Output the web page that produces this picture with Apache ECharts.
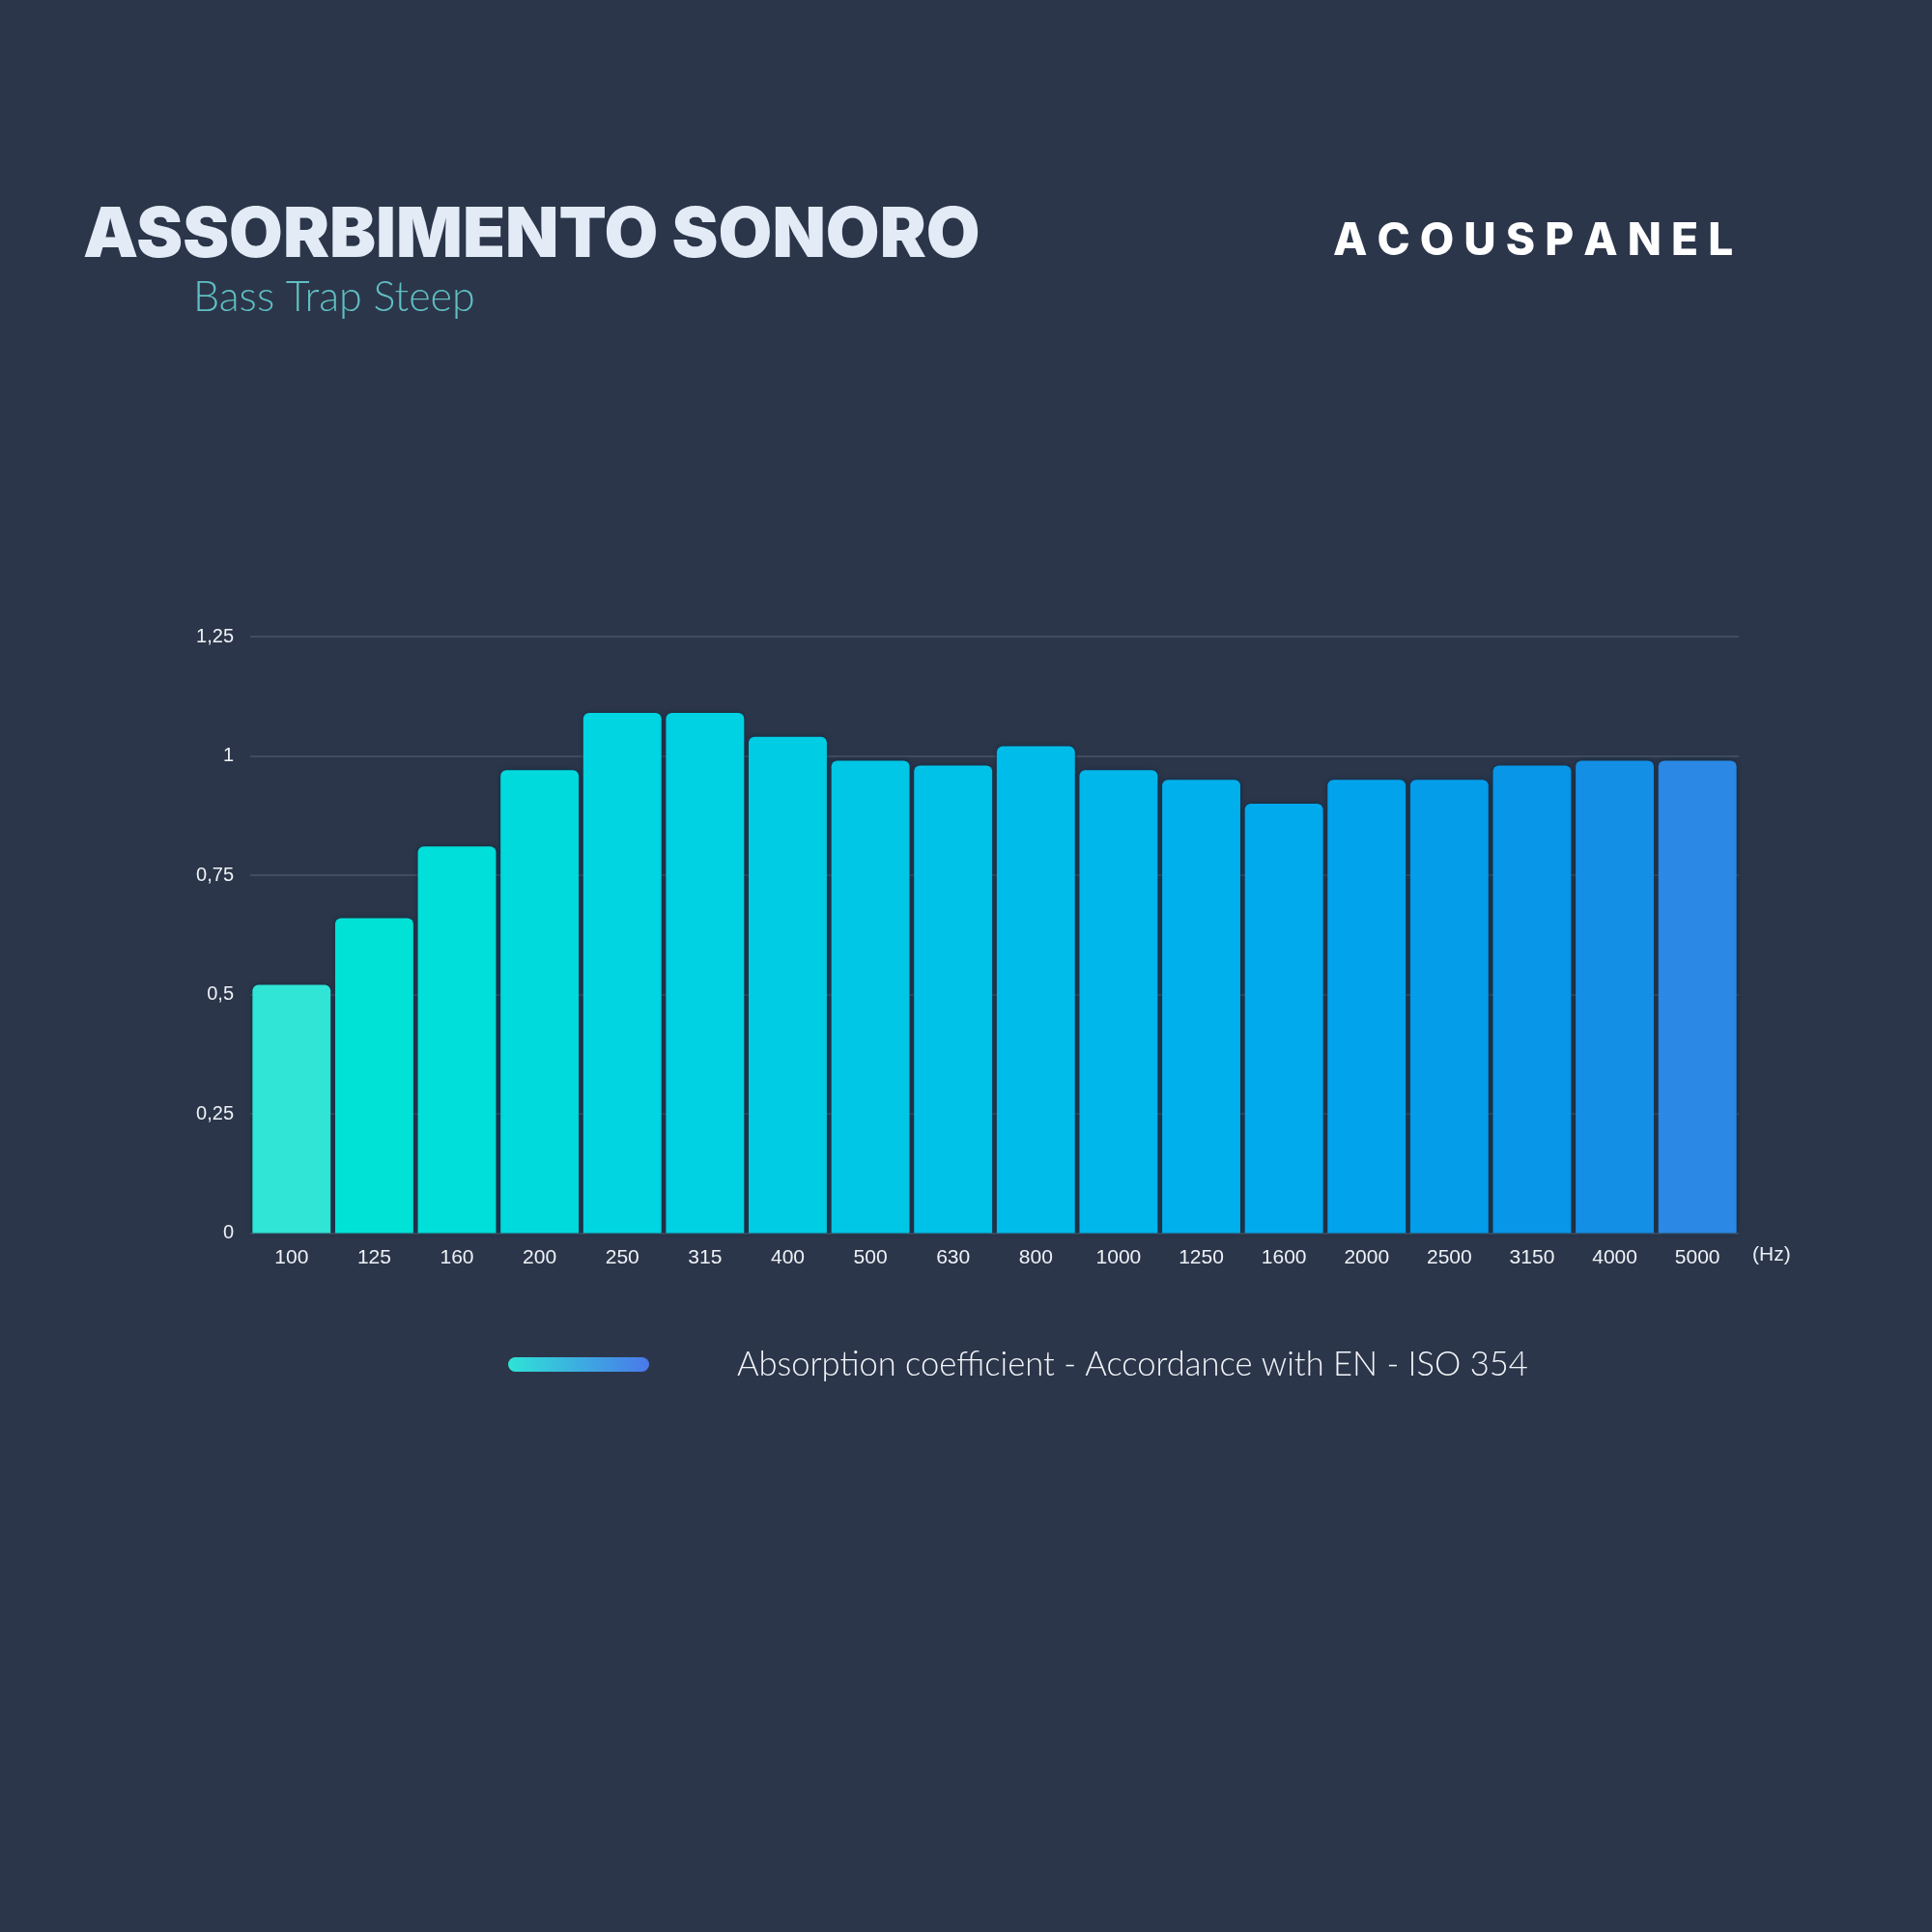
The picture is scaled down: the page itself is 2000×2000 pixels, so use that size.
<!DOCTYPE html>
<html>
<head>
<meta charset="utf-8">
<script src="https://cdn.jsdelivr.net/npm/echarts@6/dist/echarts.min.js"></script>
<style>
html,body{margin:0;padding:0;background:#2c364a;}
#chart{width:2000px;height:2000px;}
</style>
</head>
<body>
<div id="chart"></div>
<script>
const categories = ['100','125','160','200','250','315','400','500','630','800','1000','1250','1600','2000','2500','3150','4000','5000'];
const values = [0.52,0.66,0.81,0.97,1.09,1.09,1.04,0.99,0.98,1.02,0.97,0.95,0.90,0.95,0.95,0.98,0.99,0.99];
const barColors = ['#30e4d6','#00e2d6','#00dfd9','#00dadd','#00d5e1','#00d1e3','#00cce4','#00c7e6','#00c2e8','#00bcea','#00b7eb','#00b0ec','#00aaed','#01a3ec','#039dea','#0796e8','#138fe6','#2b88e4'];
const yTicks = [0,0.25,0.5,0.75,1,1.25];
const titleText = 'ASSORBIMENTO SONORO';
const subtitleText = 'Bass Trap Steep';
const brandText = 'A C O U S P A N E L';
const seriesName = 'Absorption coefficient - Accordance with EN - ISO 354';

const chart = echarts.init(document.getElementById('chart'), null, {renderer:'canvas'});
const fmt = v => String(v).replace('.', ',');

chart.setOption({
  backgroundColor: '#2c364a',
  animation: false,
  graphic: [
    {type:'text', left:86, top:208, style:{text:titleText, fill:'#e2ebf6', font:'900 72px Inter'}},
    {type:'text', left:200, top:287, style:{text:subtitleText, fill:'#5fbfc3', font:'300 43px Lato'}},
    {type:'text', left:1380, top:227, style:{text:brandText, fill:'#ffffff', font:'800 46px Inter'}}
  ],
  grid: {left:259, right:200, top:659, bottom:723.5},
  legend: {
    left: 521, top: 1390,
    itemWidth: 146, itemHeight: 15,
    icon: 'path://M7.5,0 H138.5 A7.5,7.5 0 0 1 138.5,15 H7.5 A7.5,7.5 0 0 1 7.5,0 Z',
    data: [{
      name: seriesName,
      itemStyle: {color: new echarts.graphic.LinearGradient(0,0,1,0,[{offset:0,color:'#2ee3d6'},{offset:1,color:'#4a78ea'}])}
    }],
    textStyle: {color:'#f2f5fa', fontSize:34.5, fontFamily:'Lato', fontWeight:300, padding:[0,0,25,86]}
  },
  xAxis: {
    type: 'category',
    data: categories,
    name: '(Hz)',
    nameLocation: 'end',
    nameGap: 14,
    nameTextStyle: {color:'#e8eef5', fontSize:21, fontFamily:'Liberation Sans', verticalAlign:'top', padding:[12,0,0,0]},
    axisLine: {show:false},
    axisTick: {show:false},
    axisLabel: {color:'#eef2f7', fontSize:21, fontFamily:'Liberation Sans', margin:15}
  },
  yAxis: {
    type: 'value',
    min: 0, max: 1.25, interval: 0.25,
    axisLine: {show:false},
    axisTick: {show:false},
    axisLabel: {color:'#eef2f7', fontSize:20, fontFamily:'Liberation Sans', margin:17, formatter: v => fmt(v)},
    splitLine: {lineStyle:{color:'#4a5468', width:1.5}}
  },
  series: [{
    name: seriesName,
    type: 'bar',
    barCategoryGap: '5.5%',
    data: values.map((v,i)=>({value:v, itemStyle:{color:barColors[i]}})),
    itemStyle: {borderRadius:[6,6,0,0], shadowColor:'rgba(8,40,65,0.85)', shadowBlur:5}
  }]
});
</script>
</body>
</html>
